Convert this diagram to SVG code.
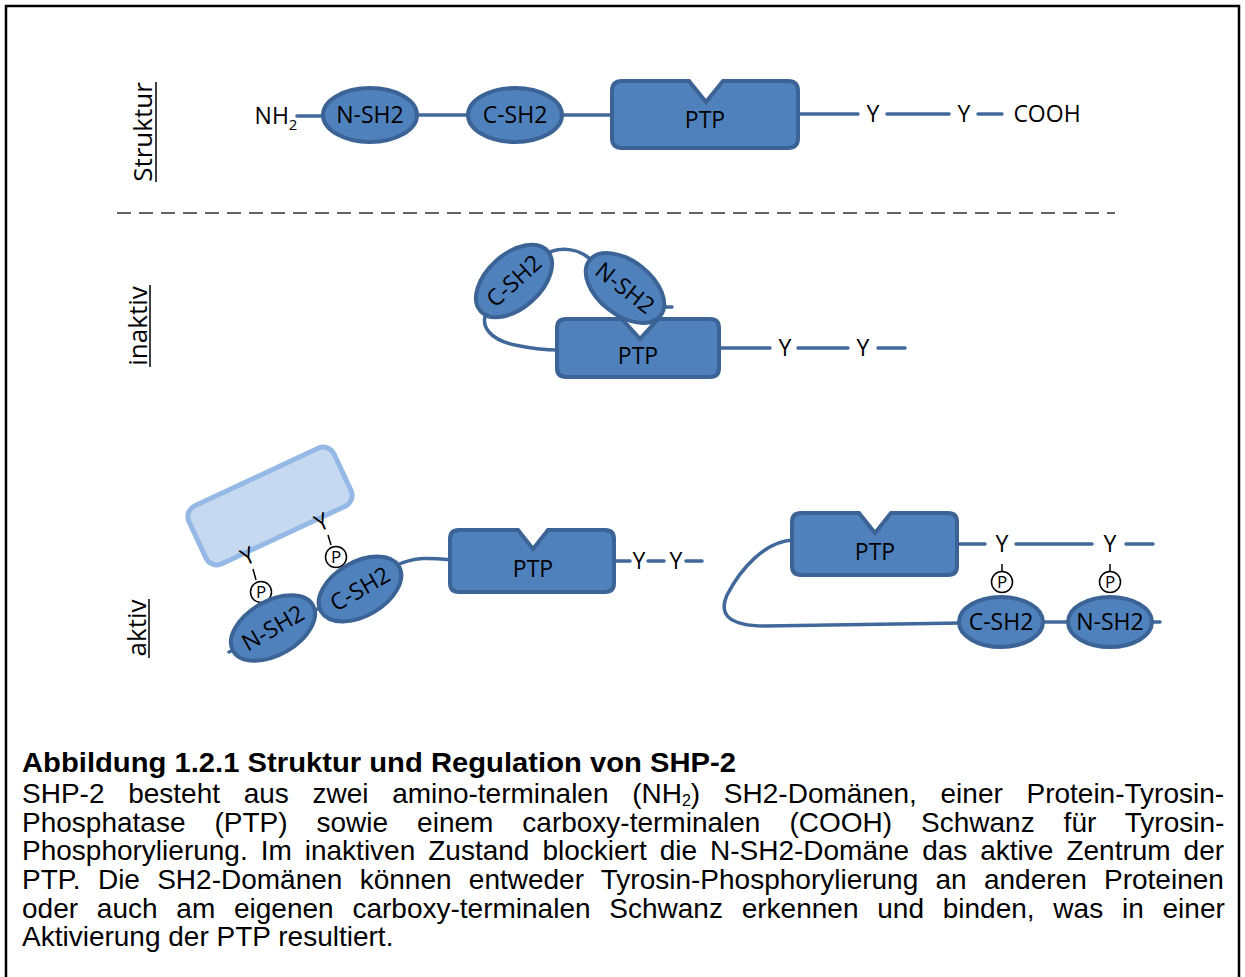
<svg xmlns="http://www.w3.org/2000/svg" width="1245" height="977" viewBox="0 0 1245 977">
<style>
.dom{fill:#4F81BD;stroke:#3B6396;stroke-width:4}
.lnk{fill:none;stroke:#41689A;stroke-width:3.5;stroke-linecap:round}
.lbl{font-family:"Open Sans","Noto Sans",sans-serif;font-size:23px;fill:#000;text-anchor:middle}
.side{font-family:"Open Sans","Noto Sans",sans-serif;font-size:26px;fill:#000;text-anchor:middle}
.cap{font-family:"Liberation Sans",Arial,sans-serif;font-size:28px;fill:#000}
.pc{fill:#fff;stroke:#000;stroke-width:1.5}
.pt{font-family:"Open Sans","Noto Sans",sans-serif;font-size:17px;fill:#000;text-anchor:middle}
.tick{stroke:#000;stroke-width:1.5}
</style>
<rect x="0" y="0" width="1245" height="977" fill="#fff"/>
<path d="M6,977 V6 H1239 V977" fill="none" stroke="#000" stroke-width="2.5"/>

<!-- side labels -->
<g id="label-struktur">
<text class="side" transform="translate(152,132) rotate(-90)">Struktur</text>
<line x1="156" y1="82" x2="156" y2="182" stroke="#000" stroke-width="1.5"/>
</g>
<g id="label-inaktiv">
<text class="side" transform="translate(147,326) rotate(-90)">inaktiv</text>
<line x1="150" y1="285" x2="150" y2="367" stroke="#000" stroke-width="1.5"/>
</g>
<g id="label-aktiv">
<text class="side" transform="translate(146,628) rotate(-90)">aktiv</text>
<line x1="149" y1="599" x2="149" y2="658" stroke="#000" stroke-width="1.5"/>
</g>

<line id="divider" x1="117" y1="213" x2="1115" y2="213" stroke="#333" stroke-width="1.5" stroke-dasharray="14 8"/>

<g id="connectors">
<!-- Struktur -->
<path class="lnk" d="M297,116 H323"/>
<path class="lnk" d="M417,115 H468"/>
<path class="lnk" d="M563,115 H612"/>
<path class="lnk" d="M798,114 H858"/>
<path class="lnk" d="M887,114 H949"/>
<path class="lnk" d="M978,114 H1002"/>
<!-- inaktiv -->
<path class="lnk" d="M541,257 C556,246 582,245 597,267"/>
<path class="lnk" d="M658,307 H672"/>
<path class="lnk" d="M488,309 C478,326 490,341 520,346 C535,349 545,350 558,350"/>
<path class="lnk" d="M719,348 H770"/>
<path class="lnk" d="M798,348 H848"/>
<path class="lnk" d="M878,348 H905"/>
<!-- aktiv left -->
<path class="lnk" d="M229,652 L240,647"/>
<path class="lnk" d="M312,612 L323,606"/>
<path class="lnk" d="M395,566 C415,556 432,558 452,560"/>
<path class="lnk" d="M614,561 H630"/>
<path class="lnk" d="M648,561 H664"/>
<path class="lnk" d="M686,561 H702"/>
<!-- aktiv right -->
<path class="lnk" d="M795,540 C765,540 740,570 727,595 C718,615 730,626 765,626 L962,623"/>
<path class="lnk" d="M957,544 H985"/>
<path class="lnk" d="M1016,544 H1092"/>
<path class="lnk" d="M1126,544 H1153"/>
<path class="lnk" d="M1043,622 H1068"/>
<path class="lnk" d="M1151,622 H1160"/>
</g>

<!-- Struktur row -->
<g id="s-nh2"><text class="lbl" x="276" y="124">NH<tspan font-size="15" dy="6">2</tspan></text></g>
<g id="s-nsh2"><ellipse class="dom" cx="370" cy="115" rx="47" ry="27"/><text class="lbl" x="370" y="123">N-SH2</text></g>
<g id="s-csh2"><ellipse class="dom" cx="515" cy="115" rx="47" ry="27"/><text class="lbl" x="515" y="123">C-SH2</text></g>
<g id="s-ptp"><path class="dom" d="M622,81 H689 L706,102 L723,81 H788 Q798,81 798,91 V138 Q798,148 788,148 H622 Q612,148 612,138 V91 Q612,81 622,81 Z"/><text class="lbl" x="705" y="128">PTP</text></g>
<g id="s-y1"><text class="lbl" x="873" y="122">Y</text></g>
<g id="s-y2"><text class="lbl" x="964" y="122">Y</text></g>
<g id="s-cooh"><text class="lbl" x="1047" y="122">COOH</text></g>

<!-- inaktiv -->
<g id="i-ptp"><path class="dom" d="M566,319 H622 L640,339 L658,319 H710 Q719,319 719,328 V368 Q719,377 710,377 H566 Q557,377 557,368 V328 Q557,319 566,319 Z"/><text class="lbl" x="638" y="364">PTP</text></g>
<g id="i-csh2" transform="translate(514,281) rotate(-42)"><ellipse class="dom" cx="0" cy="0" rx="45" ry="27"/><text class="lbl" x="0" y="8">C-SH2</text></g>
<g id="i-nsh2" transform="translate(625,288) rotate(38)"><ellipse class="dom" cx="0" cy="0" rx="45" ry="27"/><text class="lbl" x="0" y="8">N-SH2</text></g>
<g id="i-y1"><text class="lbl" x="785" y="356">Y</text></g>
<g id="i-y2"><text class="lbl" x="863" y="356">Y</text></g>

<!-- aktiv left -->
<g id="a-partner">
<rect x="-80" y="-32" width="160" height="64" rx="12" fill="#C6D9F1" stroke="#95B9E6" stroke-width="5" transform="translate(270,506) rotate(-25)"/>
<text class="lbl" font-size="21" transform="translate(248,557) rotate(-25)" y="7">Y</text>
<text class="lbl" font-size="21" transform="translate(322,523) rotate(-25)" y="7">Y</text>
</g>
<g id="a-p1"><line class="tick" x1="253" y1="569" x2="256" y2="580"/><circle class="pc" cx="261" cy="592" r="10.5"/><text class="pt" x="261" y="598">P</text></g>
<g id="a-p2"><line class="tick" x1="328" y1="535" x2="331" y2="545"/><circle class="pc" cx="336" cy="557" r="10.5"/><text class="pt" x="336" y="563">P</text></g>
<g id="a-nsh2" transform="translate(273,628) rotate(-30)"><ellipse class="dom" cx="0" cy="0" rx="46" ry="27"/><text class="lbl" x="0" y="8">N-SH2</text></g>
<g id="a-csh2" transform="translate(360,589) rotate(-30)"><ellipse class="dom" cx="0" cy="0" rx="45" ry="27"/><text class="lbl" x="0" y="8">C-SH2</text></g>
<g id="a-ptp"><path class="dom" d="M459,530 H518 L533,549 L548,530 H605 Q614,530 614,539 V583 Q614,592 605,592 H459 Q450,592 450,583 V539 Q450,530 459,530 Z"/><text class="lbl" x="533" y="577">PTP</text></g>
<g id="a-y1"><text class="lbl" x="639" y="569">Y</text></g>
<g id="a-y2"><text class="lbl" x="676" y="569">Y</text></g>

<!-- aktiv right -->
<g id="r-ptp"><path class="dom" d="M801,513 H859 L875,533 L891,513 H948 Q957,513 957,522 V566 Q957,575 948,575 H801 Q792,575 792,566 V522 Q792,513 801,513 Z"/><text class="lbl" x="875" y="560">PTP</text></g>
<g id="r-y1"><text class="lbl" x="1002" y="552">Y</text></g>
<g id="r-y2"><text class="lbl" x="1110" y="552">Y</text></g>
<g id="r-p1"><line class="tick" x1="1002" y1="564" x2="1002" y2="571"/><circle class="pc" cx="1002" cy="582" r="10.5"/><text class="pt" x="1002" y="588">P</text></g>
<g id="r-p2"><line class="tick" x1="1110" y1="564" x2="1110" y2="571"/><circle class="pc" cx="1110" cy="582" r="10.5"/><text class="pt" x="1110" y="588">P</text></g>
<g id="r-csh2"><ellipse class="dom" cx="1001" cy="622" rx="42" ry="25"/><text class="lbl" x="1001" y="630">C-SH2</text></g>
<g id="r-nsh2"><ellipse class="dom" cx="1110" cy="622" rx="42" ry="25"/><text class="lbl" x="1110" y="630">N-SH2</text></g>

<!-- caption -->
<g id="caption">
<text class="cap" x="22" y="772" font-weight="bold" font-size="28.5" textLength="714" lengthAdjust="spacingAndGlyphs">Abbildung 1.2.1 Struktur und Regulation von SHP-2</text>
<text class="cap" x="22" y="803" word-spacing="15.9">SHP-2 besteht aus zwei amino-terminalen (NH<tspan font-size="16" dy="3">2</tspan><tspan dy="-3">) SH2-Domänen, einer Protein-Tyrosin-</tspan></text>
<text class="cap" x="22" y="832" word-spacing="21.2">Phosphatase (PTP) sowie einem carboxy-terminalen (COOH) Schwanz für Tyrosin-</text>
<text class="cap" x="22" y="860" word-spacing="5.2">Phosphorylierung. Im inaktiven Zustand blockiert die N-SH2-Domäne das aktive Zentrum der</text>
<text class="cap" x="22" y="889" word-spacing="9.5">PTP. Die SH2-Domänen können entweder Tyrosin-Phosphorylierung an anderen Proteinen</text>
<text class="cap" x="22" y="918" word-spacing="11">oder auch am eigenen carboxy-terminalen Schwanz erkennen und binden, was in einer</text>
<text class="cap" x="22" y="946">Aktivierung der PTP resultiert.</text>
</g>
</svg>
